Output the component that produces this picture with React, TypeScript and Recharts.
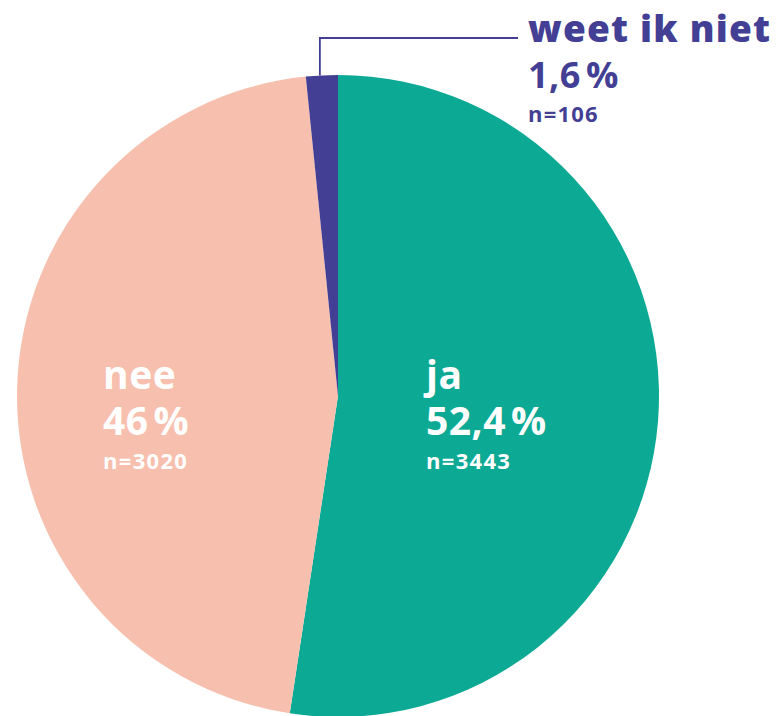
import React from "react";
import { PieChart, Pie, Cell } from "recharts";

const categories = ["ja", "nee", "weet ik niet"];
const percentages = [52.4, 46, 1.6];
const percentNumbers = ["52,4", "46", "1,6"];
const counts = [3443, 3020, 106];
const colors = ["#0CA994", "#F7BFAE", "#433F94"];

const data = categories.map((name, i) => ({
  name,
  value: percentages[i],
  pct: percentNumbers[i],
  n: counts[i],
}));

const FONT = "'Open Sans', sans-serif";

const renderLabel = (props: any) => {
  const { cx, cy, index, outerRadius, startAngle, endAngle } = props;
  const d = data[index];
  if (index === 2) {
    const RAD = Math.PI / 180;
    const mid = (startAngle + endAngle) / 2;
    const sx = cx + outerRadius * Math.cos(-mid * RAD) - 2;
    const sy = cy + outerRadius * Math.sin(-mid * RAD);
    const ly = 38;
    const tx = 528;
    return (
      <g>
        <polyline
          points={`${sx},${sy} ${sx},${ly} ${tx - 10},${ly}`}
          fill="none"
          stroke={colors[2]}
          strokeWidth={1.8}
        />
        <text x={tx} y={42} fill={colors[2]} fontFamily={FONT} fontWeight={800} fontSize={37} letterSpacing={1.2}>
          {d.name}
        </text>
        <text x={tx} y={88} fill={colors[2]} fontFamily={FONT} fontWeight={700} fontSize={36} letterSpacing={0.5}>
          {d.pct}
          <tspan dx={5}>%</tspan>
        </text>
        <text x={tx} y={122} fill={colors[2]} fontFamily={FONT} fontWeight={700} fontSize={22} letterSpacing={1.2}>
          {`n=${d.n}`}
        </text>
      </g>
    );
  }
  const x = index === 0 ? cx + 88 : cx - 235;
  return (
    <g>
      <text x={x} y={cy - 7} fill="#fff" fontFamily={FONT} fontWeight={700} fontSize={39} letterSpacing={0.5}>
        {d.name}
      </text>
      <text x={x} y={cy + 39} fill="#fff" fontFamily={FONT} fontWeight={700} fontSize={39} letterSpacing={0.5}>
        {d.pct}
        <tspan dx={5}>%</tspan>
      </text>
      <text x={x} y={cy + 73} fill="#fff" fontFamily={FONT} fontWeight={700} fontSize={22} letterSpacing={1.3}>
        {`n=${d.n}`}
      </text>
    </g>
  );
};

export default function App() {
  return (
    <div style={{ position: "absolute", left: 0, top: 0, width: 782, height: 716, background: "#fff" }}>
      <PieChart width={782} height={716} margin={{ top: 0, right: 0, bottom: 0, left: 0 }}>
        <Pie
          data={data}
          dataKey="value"
          cx={338}
          cy={396}
          outerRadius={321}
          startAngle={90}
          endAngle={-270}
          stroke="none"
          labelLine={false}
          label={renderLabel}
          isAnimationActive={false}
        >
          {data.map((d, i) => (
            <Cell key={d.name} fill={colors[i]} />
          ))}
        </Pie>
      </PieChart>
    </div>
  );
}
